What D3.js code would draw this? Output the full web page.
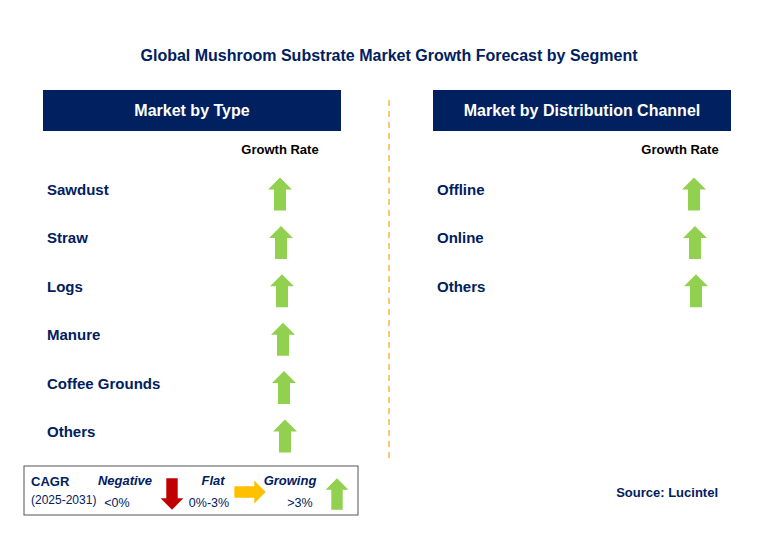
<!DOCTYPE html><html><head><meta charset="utf-8"><script src="https://cdn.jsdelivr.net/npm/d3@7"></script>
<style>body{margin:0;background:#fff}text{font-family:Arial,"Liberation Sans",sans-serif}</style></head><body><svg id="c" width="760" height="542"></svg>
<script>
const typeCategories=["Sawdust","Straw","Logs","Manure","Coffee Grounds","Others"];
const typeGrowth=["up","up","up","up","up","up"];
const channelCategories=["Offline","Online","Others"];
const channelGrowth=["up","up","up"];
const legendItems=[{label:"Negative",range:"<0%",dir:"down"},{label:"Flat",range:"0%-3%",dir:"right"},{label:"Growing",range:">3%",dir:"up"}];
const colors={up:"#92d050",down:"#c00000",right:"#ffc000"};
const navy="#002060";
const svg=d3.select("#c");
svg.append("text").attr("x",389).attr("y",61).attr("text-anchor","middle").attr("font-size",16).attr("font-weight","bold").attr("fill",navy).text("Global Mushroom Substrate Market Growth Forecast by Segment");
svg.append("line").attr("x1",389).attr("x2",389).attr("y1",100).attr("y2",462).attr("stroke","#f4b942").attr("stroke-width",1.5).attr("stroke-dasharray","6,5");
function arrow(g,cx,cy,dir,s){
  const w=24*s,h=33*s,hh=12*s,sw=12*s;
  let pts=[[0,-h/2],[w/2,-h/2+hh],[sw/2,-h/2+hh],[sw/2,h/2],[-sw/2,h/2],[-sw/2,-h/2+hh],[-w/2,-h/2+hh]];
  const rot={up:0,down:180,right:90}[dir];
  g.append("polygon").attr("points",pts.map(p=>p.join(",")).join(" ")).attr("fill",colors[dir]).attr("transform",`translate(${cx},${cy}) rotate(${rot})`);
}
function panel(x0,title,cats,growth,gx,ax,axShift){
  svg.append("rect").attr("x",x0).attr("y",90).attr("width",298).attr("height",41).attr("fill",navy);
  svg.append("text").attr("x",x0+149).attr("y",116).attr("text-anchor","middle").attr("font-size",16).attr("font-weight","bold").attr("fill","#fff").text(title);
  svg.append("text").attr("x",gx).attr("y",154).attr("text-anchor","middle").attr("font-size",13).attr("font-weight","bold").attr("fill","#000").text("Growth Rate");
  const step=48.4;
  const y=d3.scalePoint().domain(cats).range([189,189+step*(cats.length-1)]);
  cats.forEach((c,i)=>{
    svg.append("text").attr("x",x0+4).attr("y",y(c)+6).attr("font-size",15).attr("font-weight","bold").attr("fill",navy).text(c);
    arrow(svg,ax+i*axShift,y(c)+5,growth[i],1);
  });
}
panel(43,"Market by Type",typeCategories,typeGrowth,280,280,1);
panel(433,"Market by Distribution Channel",channelCategories,channelGrowth,680,694,1);
svg.append("rect").attr("x",24).attr("y",466).attr("width",334).attr("height",49).attr("fill","#fff").attr("stroke","#555").attr("stroke-width",1);
svg.append("text").attr("x",31).attr("y",486).attr("font-size",13).attr("font-weight","bold").attr("fill",navy).text("CAGR");
svg.append("text").attr("x",31).attr("y",504).attr("font-size",12).attr("fill",navy).text("(2025-2031)");
const lx=[125,213,290],ax2=[172,248,337];
legendItems.forEach((d,i)=>{
  svg.append("text").attr("x",lx[i]).attr("y",485).attr("text-anchor","middle").attr("font-size",13).attr("font-weight","bold").attr("font-style","italic").attr("fill",navy).text(d.label);
  svg.append("text").attr("x",lx[i]-(i==2?-10:i==0?8:4)).attr("y",507).attr("text-anchor","middle").attr("font-size",12.5).attr("fill",navy).text(d.range);
  if(d.dir==="right") arrow(svg,ax2[i]+2,492,d.dir,0.95);
  else arrow(svg,ax2[i],494,d.dir,0.95);
});
svg.append("text").attr("x",718).attr("y",497).attr("text-anchor","end").attr("font-size",13).attr("font-weight","bold").attr("fill",navy).text("Source: Lucintel");
</script></body></html>
